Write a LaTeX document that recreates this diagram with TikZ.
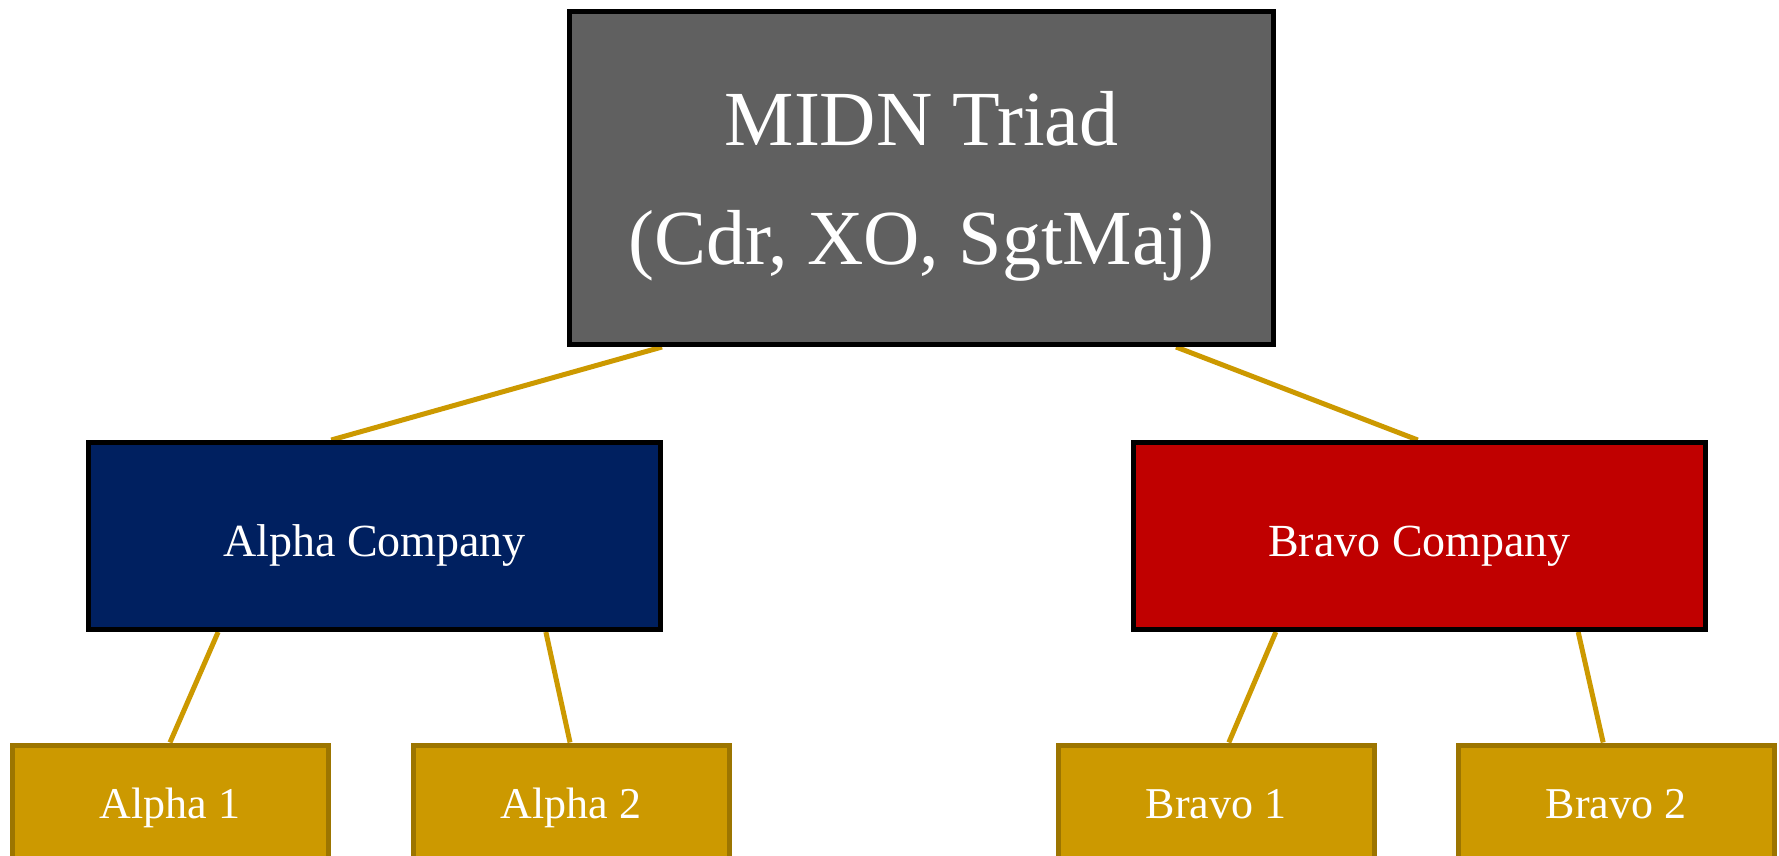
\documentclass[tikz,border=0pt]{standalone}
\usepackage{fontspec}
\setmainfont{Liberation Serif}
\usepackage{xcolor}
\usepackage{tikz}
\usetikzlibrary{calc}
\pgfdeclarelayer{background}
\pgfsetlayers{background,main}

\definecolor{triadgray}{HTML}{606060}
\definecolor{alphanavy}{HTML}{002060}
\definecolor{bravored}{HTML}{C00000}
\definecolor{gold}{HTML}{CC9900}
\definecolor{darkgold}{HTML}{9C7500}

\tikzset{
  unit/.style={draw=black, line width=5pt, text=white, inner sep=0pt, align=center},
  triad/.style={unit, fill=triadgray, minimum width=704pt, minimum height=333pt,
    text depth=-2pt, font=\fontsize{78}{119}\selectfont},
  company/.style={unit, minimum width=572pt, minimum height=187pt,
    text height=40pt, text depth=0pt, font=\fontsize{46}{52}\selectfont},
  platoon/.style={draw=darkgold, line width=5pt, fill=gold, text=white, inner sep=0pt,
    minimum width=316pt, minimum height=118pt, text height=28pt, text depth=0pt,
    font=\fontsize{44}{50}\selectfont},
  link/.style={draw=gold, line width=5pt}
}

\begin{document}
\begin{tikzpicture}[x=1pt, y=-1pt]
			\useasboundingbox (0,0) rectangle (1779,856);
			\clip (0,0) rectangle (1779,856);
			% boxes
			\node [triad] (triad) at (921.5,178) {MIDN Triad\\(Cdr, XO, SgtMaj)};
			\node [company, fill=alphanavy] (alpha) at (374.5,536) {Alpha Company};
			\node [company, fill=bravored] (bravo) at (1419.5,536) {Bravo Company};
			\node [platoon] (alpha1) at (170,804) {Alpha 1};
			\node [platoon] (alpha2) at (571,804) {Alpha 2};
			\node [platoon] (bravo1) at (1216,804) {Bravo 1};
			\node [platoon] (bravo2) at (1616,804) {Bravo 2};
			% links, kept under the boxes
			\begin{pgfonlayer}{background}
			\draw [link] ($(triad.south west)!0.134!(triad.south east)$) -- ($(alpha.north west)!0.425!(alpha.north east)$);
			\draw [link] ($(triad.south west)!0.859!(triad.south east)$) -- ($(bravo.north west)!0.497!(bravo.north east)$);
			\draw [link] ($(alpha.south west)!0.229!(alpha.south east)$) -- ($(alpha1.north west)!0.5!(alpha1.north east)$);
			\draw [link] ($(alpha.south west)!0.797!(alpha.south east)$) -- ($(alpha2.north west)!0.497!(alpha2.north east)$);
			\draw [link] ($(bravo.south west)!0.251!(bravo.south east)$) -- ($(bravo1.north west)!0.54!(bravo1.north east)$);
			\draw [link] ($(bravo.south west)!0.775!(bravo.south east)$) -- ($(bravo2.north west)!0.46!(bravo2.north east)$);
			\end{pgfonlayer}
		\end{tikzpicture}
\end{document}
